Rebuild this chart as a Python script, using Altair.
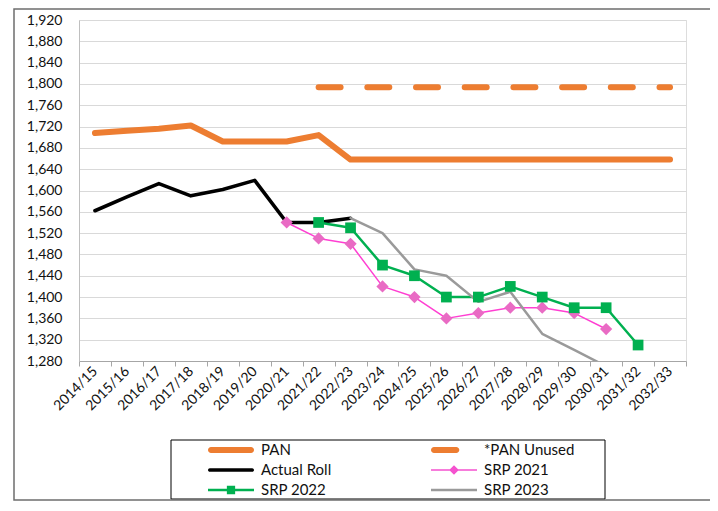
import altair as alt
import pandas as pd

categories = ["2014/15", "2015/16", "2016/17", "2017/18", "2018/19", "2019/20",
              "2020/21", "2021/22", "2022/23", "2023/24", "2024/25", "2025/26",
              "2026/27", "2027/28", "2028/29", "2029/30", "2030/31", "2031/32",
              "2032/33"]

series_names = ["PAN", "*PAN Unused", "Actual Roll", "SRP 2021", "SRP 2022", "SRP 2023"]

N = None
pan = [1708, 1712, 1716, 1722, 1692, 1692, 1692, 1704, 1658, 1658, 1658, 1658,
       1658, 1658, 1658, 1658, 1658, 1658, 1658]
pan_unused = [N, N, N, N, N, N, N, 1794, 1794, 1794, 1794, 1794, 1794, 1794,
              1794, 1794, 1794, 1794, 1794]
actual_roll = [1562, 1588, 1613, 1590, 1602, 1619, 1540, 1540, 1548, N, N, N,
               N, N, N, N, N, N, N]
srp_2021 = [N, N, N, N, N, N, 1540, 1510, 1500, 1420, 1400, 1360, 1370, 1380,
            1380, 1370, 1340, N, N]
srp_2022 = [N, N, N, N, N, N, N, 1540, 1530, 1460, 1440, 1400, 1400, 1420,
            1400, 1380, 1380, 1310, N]
srp_2023 = [N, N, N, N, N, N, N, N, 1548, 1520, 1452, 1440, 1391, 1410, 1331,
            1301, 1270, N, N]

y_ticks = list(range(1280, 1921, 40))

line_colors = ["#ED7D31", "#ED7D31", "#000000", "#FF3FD2", "#00B050", "#9A9A9A"]
legend_fills = ["#ED7D31", "#ED7D31", "#000000", "#F552CF", "#00B050", "#9A9A9A"]
dashes = [None, [22, 26.7], None, None, None, None]
widths = [6, 6, 3.6, 1.5, 2.5, 2.5]

# legend symbols drawn as filled paths (unit box, scaled by the legend symbol size)
legend_paths = [
    "M-0.87,-0.13H0.87A0.13,0.13 0 0 1 0.87,0.13H-0.87A0.13,0.13 0 0 1 -0.87,-0.13Z",
    "M-0.87,-0.13H0.1A0.13,0.13 0 0 1 0.1,0.13H-0.87A0.13,0.13 0 0 1 -0.87,-0.13Z",
    "M-0.92,-0.08H0.92A0.08,0.08 0 0 1 0.92,0.08H-0.92A0.08,0.08 0 0 1 -0.92,-0.08Z",
    "M-1,-0.033H1V0.033H-1ZM0,-0.21L0.21,0L0,0.21L-0.21,0Z",
    "M-1,-0.055H1V0.055H-1ZM-0.18,-0.18H0.18V0.18H-0.18Z",
    "M-1,-0.055H1V0.055H-1Z",
]

all_series = [pan, pan_unused, actual_roll, srp_2021, srp_2022, srp_2023]
rows = []
for name, vals in zip(series_names, all_series):
    for cat, v in zip(categories, vals):
        if v is not None:
            rows.append({"series": name, "period": cat, "value": v})
df = pd.DataFrame(rows)

FONT = "Lato"
TXT = "#111111"

x_enc = alt.X(
    "period:N", sort=categories, title=None, bandPosition=0.5,
    scale=alt.Scale(type="band", domain=categories, paddingInner=0, paddingOuter=0),
    axis=alt.Axis(labelAngle=-45, labelAlign="right", labelBaseline="middle",
                  tickBand="extent", grid=False, domainColor="#A6A6A6",
                  tickColor="#A6A6A6", tickSize=5, labelFont=FONT,
                  labelFontSize=14, labelColor=TXT, labelPadding=3),
)
y_enc = alt.Y(
    "value:Q", title=None,
    scale=alt.Scale(domain=[1280, 1920], nice=False, zero=False),
    axis=alt.Axis(values=y_ticks, format=",d", grid=True, gridColor="#D9D9D9",
                  domainColor="#BFBFBF", ticks=False, labelPadding=17,
                  labelFont=FONT, labelFontSize=14, labelColor=TXT),
)

base = alt.Chart(df)

layers = []
for i, name in enumerate(series_names):
    props = dict(color=line_colors[i], strokeWidth=widths[i], strokeCap="round",
                 strokeJoin="round", clip=True)
    if dashes[i] is not None:
        props["strokeDash"] = dashes[i]
    layers.append(
        base.transform_filter(alt.datum.series == name).mark_line(**props).encode(x=x_enc, y=y_enc)
    )

pts21 = base.transform_filter(alt.datum.series == "SRP 2021").mark_point(
    shape="diamond", filled=True, size=150, color="#E96BC4", opacity=1
).encode(x=x_enc, y=y_enc)

pts22 = base.transform_filter(alt.datum.series == "SRP 2022").mark_point(
    shape="square", filled=True, size=115, color="#00B050", opacity=1
).encode(x=x_enc, y=y_enc)

legend = alt.Legend(
    title=None, orient="none", legendX=129, legendY=422, columns=2,
    direction="horizontal", columnPadding=99, rowPadding=4, clipHeight=16,
    labelFont=FONT, labelFontSize=15, labelColor=TXT, labelOffset=7,
    symbolSize=2116, symbolStrokeWidth=0, padding=0, symbolOffset=0,
)

legend_dummy = base.transform_filter("false").mark_point(filled=True, opacity=1).encode(
    x=x_enc, y=y_enc,
    shape=alt.Shape("series:N", scale=alt.Scale(domain=series_names, range=legend_paths), legend=legend),
    fill=alt.Fill("series:N", scale=alt.Scale(domain=series_names, range=legend_fills), legend=legend),
)

legend_box = alt.Chart(alt.Data(values=[{"k": 1}])).mark_rect(
    fill="transparent", stroke="#000000", strokeWidth=1
).encode(x=alt.value(92), x2=alt.value(526), y=alt.value(420), y2=alt.value(479))

frame = alt.Chart(alt.Data(values=[{"k": 1}])).mark_rect(
    fill="transparent", stroke="#6E6E6E", strokeWidth=1.5
).encode(x=alt.value(-65), x2=alt.value(700), y=alt.value(-11), y2=alt.value(480))

chart = alt.layer(*layers, pts21, pts22, legend_dummy, legend_box, frame).properties(
    width=607, height=341,
    padding={"left": 71, "top": 12, "right": 24, "bottom": 140},
    autosize=alt.AutoSizeParams(type="none"),
).configure_view(stroke=None).configure(font=FONT, background="white")

chart.save("out.html", embed_options={"renderer": "svg", "actions": False})
